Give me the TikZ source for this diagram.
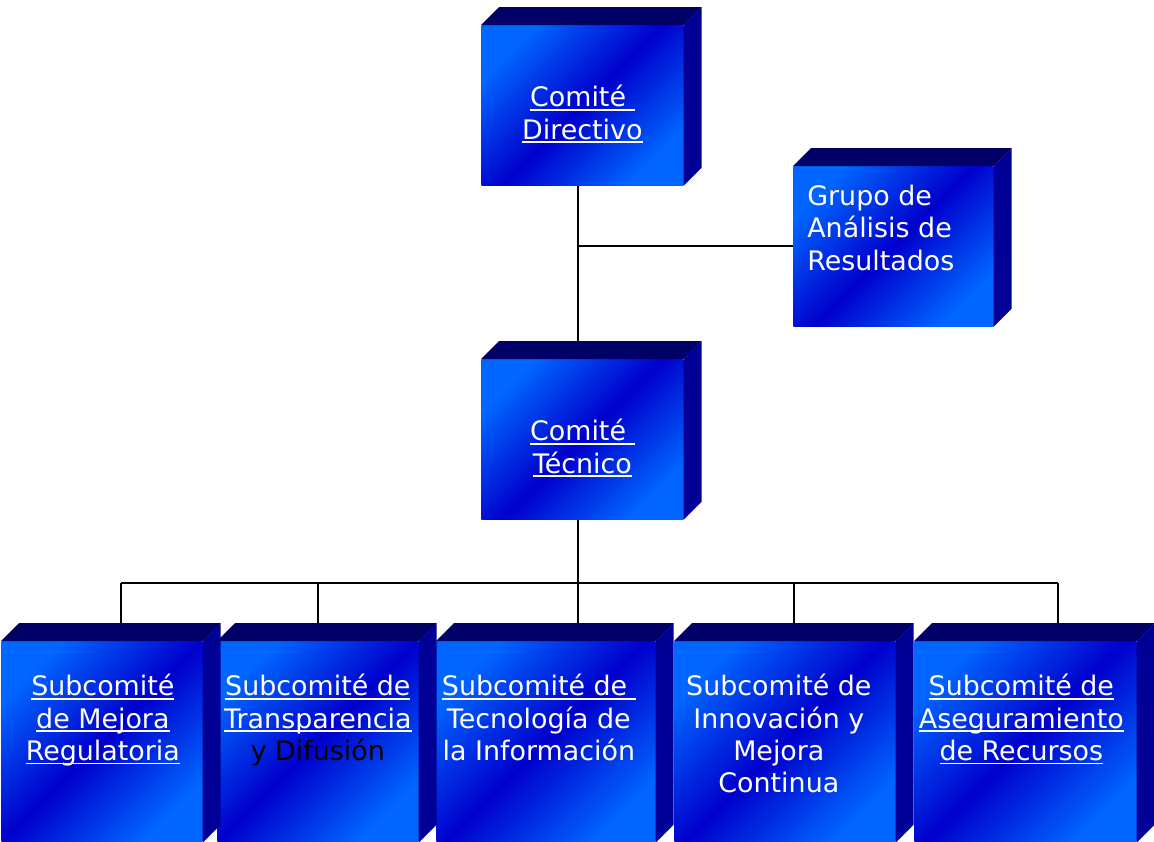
\documentclass[tikz,border=0pt]{standalone}
\usepackage{fontspec}
\setmainfont{DejaVu Sans}
\usetikzlibrary{backgrounds}

\definecolor{azulclaro}{RGB}{0,102,255}
\definecolor{azuloscuro}{RGB}{0,0,204}
\definecolor{azultapa}{RGB}{0,0,102}
\definecolor{azullado}{RGB}{0,0,150}

% texto subrayado
\newcommand\subray[1]{\setbox0\hbox{#1}\rlap{\rule[-2.2pt]{\wd0}{0.8pt}}\box0}

\tikzset{
  frente/.style={rectangle, anchor=north west, inner sep=0pt,
    top color=azulclaro, bottom color=azulclaro, middle color=azuloscuro,
    shading angle=45},
  rotulo/.style={font=\fontsize{15.3}{18.3}\selectfont, text=white, align=center,
    anchor=north, inner sep=0pt, execute at begin node={\rule{0pt}{13pt}}},
  linea/.style={line width=1.1pt}
}

\begin{document}
\begin{tikzpicture}[x=0.02cm,y=-0.02cm]
            \useasboundingbox (0,0) rectangle (1154,842);

            % cajas (cara frontal)
            \node[frente, minimum width=202*0.02cm, minimum height=160*0.02cm] (dir) at (481,25) {};
            \node[frente, minimum width=200*0.02cm, minimum height=160*0.02cm] (grupo) at (793,166) {};
            \node[frente, minimum width=202*0.02cm, minimum height=160*0.02cm] (tec) at (481,359) {};
            \node[frente, minimum width=201*0.02cm, minimum height=201*0.02cm] (s1) at (1,641) {};
            \node[frente, minimum width=201*0.02cm, minimum height=201*0.02cm] (s2) at (217,641) {};
            \node[frente, minimum width=219*0.02cm, minimum height=201*0.02cm] (s3) at (436,641) {};
            \node[frente, minimum width=221*0.02cm, minimum height=201*0.02cm] (s4) at (674,641) {};
            \node[frente, minimum width=222*0.02cm, minimum height=201*0.02cm] (s5) at (914,641) {};

            % tapa y lado
            \foreach \n in {dir,grupo,tec,s1,s2,s3,s4,s5} {
                \fill[azultapa] (\n.north west) -- ++(18,-18) -- ([shift={(18,-18)}]\n.north east) -- (\n.north east) -- cycle;
                \fill[azullado] (\n.north east) -- ++(18,-18) -- ([shift={(18,-18)}]\n.south east) -- (\n.south east) -- cycle;
            }

            % textos
            \node[rotulo] (t-dir) at ([shift={(0,60)}]dir.north) {\subray{Comité }\\\subray{Directivo}};
            \node[rotulo, anchor=north west, align=left] (t-grupo) at ([shift={(14,19)}]grupo.north west) {Grupo de\\Análisis de\\Resultados};
            \node[rotulo] (t-tec) at ([shift={(0,60)}]tec.north) {\subray{Comité }\\\subray{Técnico}};
            \node[rotulo] (t-s1) at ([shift={(1,33)}]s1.north) {\subray{Subcomité}\\\subray{de Mejora}\\\subray{Regulatoria}};
            \node[rotulo] (t-s2) at ([shift={(0,33)}]s2.north) {\subray{Subcomité de}\\\subray{Transparencia}\\\textcolor{black}{y Difusión}};
            \node[rotulo] (t-s3) at ([shift={(-7,33)}]s3.north) {\subray{Subcomité de }\\Tecnología de\\la Información};
            \node[rotulo] (t-s4) at ([shift={(-6,33)}]s4.north) {Subcomité de\\Innovación y\\Mejora\\Continua};
            \node[rotulo] (t-s5) at ([shift={(-4,33)}]s5.north) {\subray{Subcomité de}\\\subray{Aseguramiento}\\\subray{de Recursos}};

            % conectores
            \coordinate (b1) at (121,583);
            \coordinate (b2) at (318,583);
            \coordinate (b3) at (578,583);
            \coordinate (b4) at (794,583);
            \coordinate (b5) at (1058,583);
            \begin{scope}[on background layer]
                \draw[linea] (b3 |- dir) -- (b3);
                \draw[linea] (grupo) -- (grupo -| b3);
                \draw[linea] (b1) -- (b5);
                \foreach \b/\n in {b1/s1,b2/s2,b3/s3,b4/s4,b5/s5}
                    \draw[linea] (\b) -- (\b |- \n);
            \end{scope}
        \end{tikzpicture}
\end{document}
